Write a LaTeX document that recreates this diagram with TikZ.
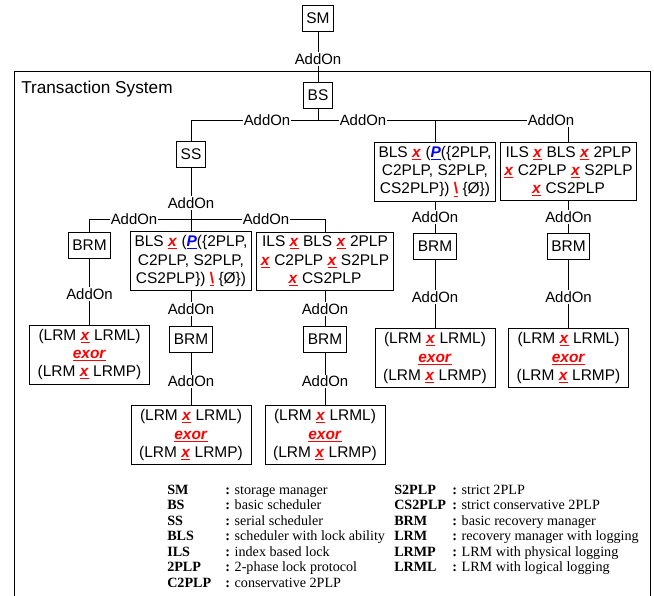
\documentclass[tikz,border=0pt]{standalone}
\usepackage{fontspec}
\setmainfont{Liberation Sans}
\newfontfamily\legfont{Liberation Serif}
\usetikzlibrary{positioning}

\newcommand{\dfont}{\fontsize{11.6}{13.7}\selectfont}
\newcommand{\xop}{\textcolor{red}{\underline{\textbf{\textit{x}}}}}
\newcommand{\Pop}{\textcolor{blue}{\underline{\textbf{\textit{P}}}}}
\newcommand{\diffop}{\textcolor{red}{\underline{\textbf{\textbackslash}}}}
\newcommand{\exorop}{\textcolor{red}{\underline{\textbf{\textit{exor}}}}}
\newcommand{\legitem}[2]{\makebox[43.5pt][l]{\textbf{#1}}\textbf{:} #2}
\newcommand{\lrmtext}{(LRM \xop{} LRML)\\\exorop\\(LRM \xop{} LRMP)}

\tikzset{
  box/.style={draw,line width=.6pt,inner xsep=3pt,inner ysep=3pt,minimum height=19.5pt,align=center,font=\dfont},
  lrmbox/.style={box,minimum width=90pt},
  addon/.style={fill=white,inner sep=.8pt,font=\fontsize{11.2}{13}\selectfont},
  link/.style={line width=.6pt},
  legtext/.style={inner sep=0pt,font=\legfont\fontsize{10.6}{11.6}\selectfont}
}

\begin{document}
\begin{tikzpicture}[x=.75pt,y=-.75pt]
\useasboundingbox (0,0) rectangle (654,596);
% frame
\draw[link] (14,597) |- (650,71) -- (650,597);
\node[anchor=west,inner sep=0pt,font=\fontsize{12.9}{14}\selectfont] (ts) at (21,89) {Transaction System};

% top level
\node[box] (sm) at (318,18) {SM};
\node[box] (bs) at (318,95.5) {BS};
\node[box] (ss) at (191,154.5) {SS};
\node[box] (bls) at (435,171.5) {BLS \xop{} (\Pop(\{2PLP,\\C2PLP, S2PLP,\\CS2PLP\}) \diffop{} \{Ø\})};
\node[box] (ils) at (568.5,171.5) {ILS \xop{} BLS \xop{} 2PLP\\\xop{} C2PLP \xop{} S2PLP\\\xop{} CS2PLP};
\node[box] (brmRa) at (435,246.5) {BRM};
\node[box] (brmRb) at (568.5,246.5) {BRM};
\node[lrmbox] (lrmRa) at (435,358) {\lrmtext};
\node[lrmbox] (lrmRb) at (568.5,358) {\lrmtext};

% serial scheduler branch
\node[box] (brmL) at (89.5,245) {BRM};
\node[lrmbox] (lrmL) at (89.5,354.5) {\lrmtext};
\node[box] (blsL) at (191,261) {BLS \xop{} (\Pop(\{2PLP,\\C2PLP, S2PLP,\\CS2PLP\}) \diffop{} \{Ø\})};
\node[box] (ilsL) at (325,261) {ILS \xop{} BLS \xop{} 2PLP\\\xop{} C2PLP \xop{} S2PLP\\\xop{} CS2PLP};
\node[box] (brmM) at (191,339) {BRM};
\node[box] (brmN) at (325,339) {BRM};
\node[lrmbox] (lrmM) at (191,435) {\lrmtext};
\node[lrmbox] (lrmN) at (325,435) {\lrmtext};

% connectors
\coordinate (hubT) at (318,120);
\coordinate (hubS) at (191,219);
\draw[link] (sm) -- (bs);
\draw[link] (bs) -- (hubT) -| (ss);
\draw[link] (hubT) -| (bls);
\draw[link] (hubT) -| (ils);
\draw[link] (bls) -- (brmRa) -- (lrmRa);
\draw[link] (ils) -- (brmRb) -- (lrmRb);
\draw[link] (ss) -- (hubS) -| (brmL);
\draw[link] (hubS) -| (blsL);
\draw[link] (hubS) -| (ilsL);
\draw[link] (brmL) -- (lrmL);
\draw[link] (blsL) -- (brmM) -- (lrmM);
\draw[link] (ilsL) -- (brmN) -- (lrmN);

% labels
\node[addon] (ao1) at (318,59) {AddOn};
\node[addon] (ao2) at (267,120) {AddOn};
\node[addon] (ao3) at (363,120) {AddOn};
\node[addon] (ao4) at (551,120) {AddOn};
\node[addon] (ao5) at (435,217) {AddOn};
\node[addon] (ao6) at (568.5,217) {AddOn};
\node[addon] (ao7) at (435,297) {AddOn};
\node[addon] (ao8) at (568.5,297) {AddOn};
\node[addon] (ao9) at (191,203) {AddOn};
\node[addon] (ao10) at (134,219) {AddOn};
\node[addon] (ao11) at (266,219) {AddOn};
\node[addon] (ao12) at (89.5,294) {AddOn};
\node[addon] (ao13) at (191,309) {AddOn};
\node[addon] (ao14) at (325,309) {AddOn};
\node[addon] (ao15) at (191,381.5) {AddOn};
\node[addon] (ao16) at (325,381.5) {AddOn};

% legend
\foreach \lab/\txt [count=\i] in {SM/storage manager,BS/basic scheduler,SS/serial scheduler,BLS/scheduler with lock ability,ILS/index based lock,2PLP/2-phase lock protocol,C2PLP/conservative 2PLP}
  {\node[legtext,anchor=base west] (legl\i) at (167,{494.5+15.45*(\i-1)}) {\legitem{\lab}{\txt}};}
\foreach \lab/\txt [count=\i] in {S2PLP/strict 2PLP,CS2PLP/strict conservative 2PLP,BRM/basic recovery manager,LRM/recovery manager with logging,LRMP/LRM with physical logging,LRML/LRM with logical logging}
  {\node[legtext,anchor=base west] (legr\i) at (394,{494.5+15.45*(\i-1)}) {\legitem{\lab}{\txt}};}
\end{tikzpicture}
\end{document}
